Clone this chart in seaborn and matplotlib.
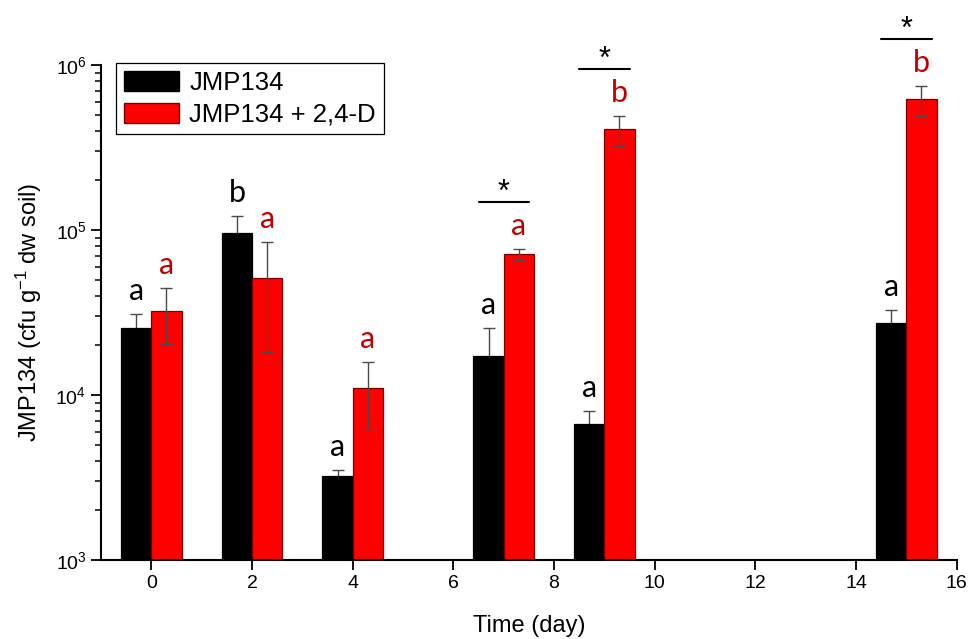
import numpy as np
import pandas as pd
import matplotlib
matplotlib.use("Agg")
import matplotlib.pyplot as plt
import matplotlib.transforms as mtransforms
from matplotlib.patches import Patch
import seaborn as sns

# ---- data ----
days = [0, 2, 4, 7, 9, 15]
series_names = ["JMP134", "JMP134 + 2,4-D"]
jmp_mean = [25400, 95500, 3240, 17300, 6670, 27400]
jmp_sd = [5700, 26500, 270, 8300, 1360, 5300]
jmp24d_mean = [32400, 51400, 11000, 71300, 407000, 620000]
jmp24d_sd = [12100, 33200, 4800, 5400, 86000, 126000]
jmp_letters = ["a", "b", "a", "a", "a", "a"]
jmp24d_letters = ["a", "a", "a", "a", "b", "b"]
sig_days = [7, 9, 15]
xticks = [0, 2, 4, 6, 8, 10, 12, 14, 16]

df = pd.DataFrame({
    "day": days * 2,
    "cfu": jmp_mean + jmp24d_mean,
    "treatment": [series_names[0]] * len(days) + [series_names[1]] * len(days),
})

sns.set_style("ticks")
plt.rcParams["font.family"] = ["Liberation Sans", "DejaVu Sans"]
plt.rcParams["mathtext.fontset"] = "custom"
plt.rcParams["mathtext.rm"] = "Liberation Sans"
plt.rcParams["mathtext.it"] = "Liberation Sans:italic"
plt.rcParams["text.color"] = "black"
plt.rcParams["axes.labelcolor"] = "black"
plt.rcParams["xtick.color"] = "black"
plt.rcParams["ytick.color"] = "black"

fig = plt.figure(figsize=(9.7, 6.39), dpi=100)
ax = fig.add_axes([0.1041, 0.1236, 0.8822, 0.7747])

palette = {series_names[0]: "black", series_names[1]: "#FF0000"}
edgecols = ["black", "#7a0000"]
sns.barplot(data=df, x="day", y="cfu", hue="treatment", hue_order=series_names,
            native_scale=True, width=0.6, dodge=True, gap=0, palette=palette,
            saturation=1, errorbar=None, ax=ax, legend=False, zorder=2)

ax.set_yscale("log")
ax.set_ylim(1e3, 1e6)
ax.set_xlim(-1, 16)
ax.set_xticks(xticks)
ax.set_xticklabels([str(t) for t in xticks])

means = [jmp_mean, jmp24d_mean]
sds = [jmp_sd, jmp24d_sd]
letters = [jmp_letters, jmp24d_letters]
letter_colors = ["black", "#C00000"]
red_tops = {}

for k, cont in enumerate(ax.containers[:2]):
    bars = sorted(cont.patches, key=lambda p: p.get_x())
    xs = []
    for p in bars:
        p.set_edgecolor(edgecols[k])
        p.set_linewidth(0.9)
        xs.append(p.get_x() + p.get_width() / 2)
    ax.errorbar(xs, means[k], yerr=sds[k], fmt="none", ecolor="#4a4a4a",
                elinewidth=1.0, capsize=4, capthick=1.0,
                zorder=1 if k == 0 else 3)
    for i, x in enumerate(xs):
        top = means[k][i] + sds[k][i]
        ax.annotate(letters[k][i], xy=(x, top), xytext=(0, 14),
                    textcoords="offset pixels", ha="center", va="baseline",
                    fontsize=22, family=["Lato", "DejaVu Sans"],
                    color=letter_colors[k], zorder=4)
        if k == 1:
            red_tops[days[i]] = top

line_tr = mtransforms.offset_copy(ax.transData, fig=fig, x=0, y=47, units="dots")
for d in sig_days:
    top = red_tops[d]
    ax.plot([d - 0.5, d + 0.5], [top, top], color="black", lw=1.5,
            transform=line_tr, clip_on=False, zorder=4)
    ax.annotate("*", xy=(d, top), xytext=(0, 48), textcoords="offset pixels",
                ha="center", va="baseline", fontsize=22, color="black",
                annotation_clip=False)

sns.despine(ax=ax)
for s in ["left", "bottom"]:
    ax.spines[s].set_linewidth(1.5)
    ax.spines[s].set_color("black")
ax.tick_params(axis="both", which="major", length=7, width=1.3, direction="out",
               labelsize=14, colors="black")
ax.tick_params(axis="y", which="minor", length=4, width=1.1, direction="out",
               colors="black")

ax.set_xlabel("Time (day)", fontsize=17, labelpad=17)
ax.set_ylabel("JMP134 (cfu g$^{-1}$ dw soil)", fontsize=17, labelpad=8)

handles = [Patch(facecolor="black", edgecolor="black"),
           Patch(facecolor="#FF0000", edgecolor="#7a0000")]
leg = ax.legend(handles, series_names, loc="upper left",
                bbox_to_anchor=(0.0175, 1.004), borderaxespad=0, fontsize=18.5,
                frameon=True, fancybox=False, edgecolor="black", framealpha=1,
                handlelength=2.15, handleheight=0.85, borderpad=0.3,
                labelspacing=0.3, handletextpad=0.4)
leg.get_frame().set_linewidth(0.9)
for t in leg.get_texts():
    t.set_color("black")

fig.savefig("out.png", dpi=100)
